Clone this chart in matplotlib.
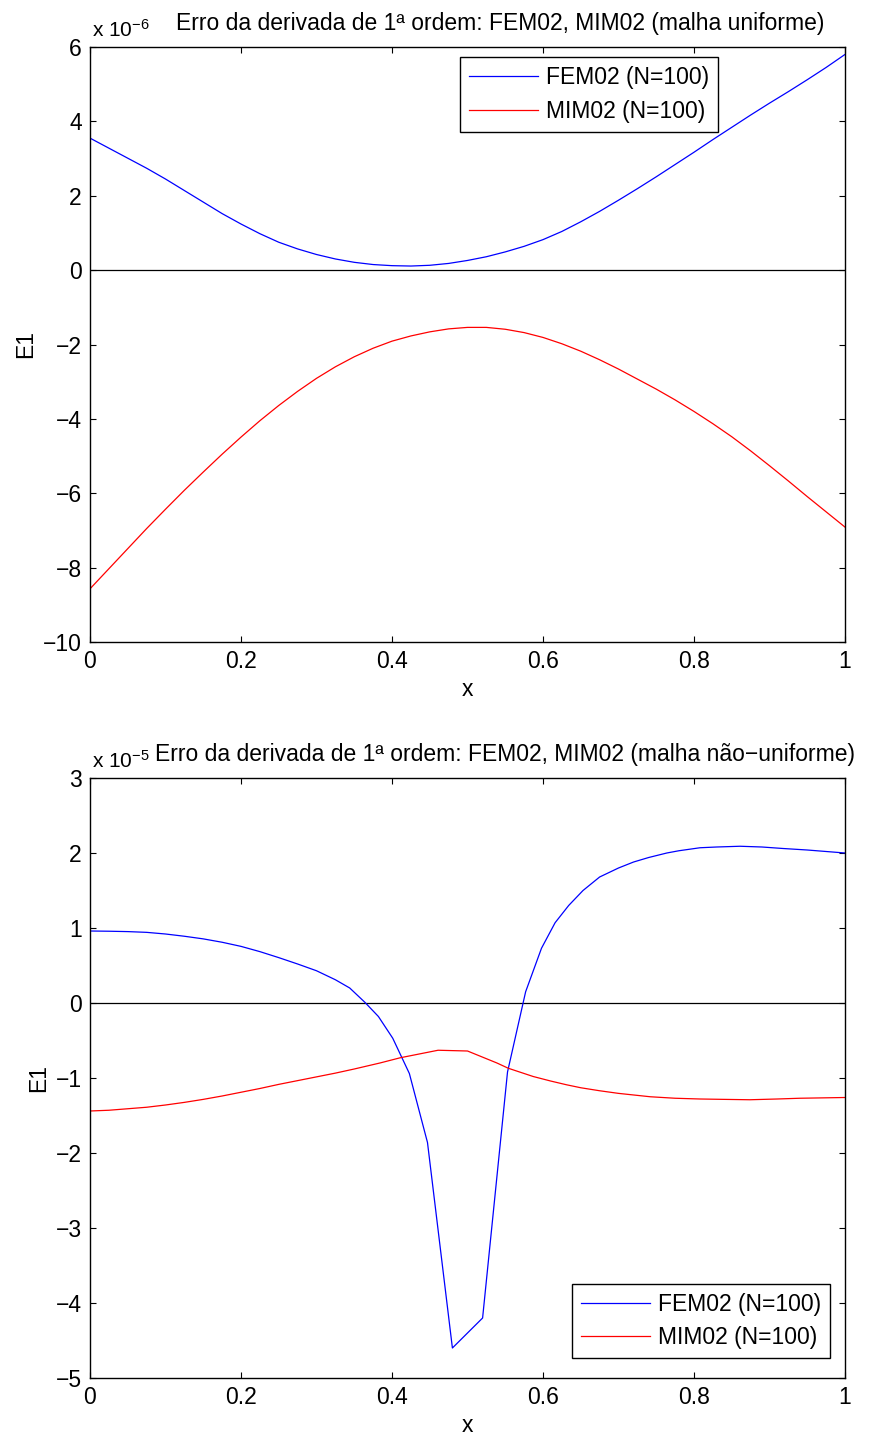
import matplotlib
matplotlib.use("Agg")
import matplotlib.pyplot as plt
import numpy as np

plt.rcParams['font.family'] = ['Liberation Sans', 'DejaVu Sans']
plt.rcParams['font.size'] = 16.5

# top panel: uniform mesh, values in units of 1e-6
x_uni = [0.000, 0.025, 0.050, 0.075, 0.100, 0.125, 0.150, 0.175, 0.200, 0.225,
         0.250, 0.275, 0.300, 0.325, 0.350, 0.375, 0.400, 0.425, 0.450, 0.475,
         0.500, 0.525, 0.550, 0.575, 0.600, 0.625, 0.650, 0.675, 0.700, 0.725,
         0.750, 0.775, 0.800, 0.825, 0.850, 0.875, 0.900, 0.925, 0.950, 0.975, 1.000]
fem_uni = [3.55, 3.28, 3.01, 2.74, 2.45, 2.14, 1.83, 1.52, 1.24, 0.98,
           0.75, 0.57, 0.42, 0.30, 0.21, 0.15, 0.12, 0.11, 0.13, 0.18,
           0.26, 0.36, 0.49, 0.64, 0.82, 1.04, 1.30, 1.58, 1.88, 2.19,
           2.51, 2.84, 3.17, 3.51, 3.84, 4.17, 4.49, 4.80, 5.12, 5.45, 5.80]
mim_uni = [-8.57, -8.03, -7.49, -6.95, -6.43, -5.92, -5.43, -4.95, -4.49, -4.05,
           -3.64, -3.26, -2.91, -2.60, -2.33, -2.10, -1.91, -1.77, -1.66, -1.58,
           -1.54, -1.54, -1.59, -1.68, -1.81, -1.98, -2.18, -2.41, -2.66, -2.93,
           -3.20, -3.49, -3.80, -4.13, -4.48, -4.86, -5.26, -5.67, -6.09, -6.50, -6.91]

# bottom panel: non-uniform mesh, values in units of 1e-5
x_fem_nu = [0.000, 0.025, 0.050, 0.075, 0.100, 0.125, 0.150, 0.175, 0.200, 0.225,
            0.250, 0.275, 0.300, 0.325, 0.344, 0.364, 0.382, 0.401, 0.423, 0.447,
            0.480, 0.520, 0.553, 0.577, 0.598, 0.616, 0.634, 0.653, 0.675, 0.700,
            0.720, 0.740, 0.764, 0.780, 0.808, 0.830, 0.861, 0.890, 0.918, 0.950,
            0.975, 1.000]
fem_nu = [0.96, 0.957, 0.952, 0.942, 0.92, 0.89, 0.855, 0.81, 0.755, 0.685,
          0.605, 0.52, 0.43, 0.31, 0.20, 0.01, -0.18, -0.47, -0.94, -1.86,
          -4.60, -4.20, -0.92, 0.15, 0.73, 1.07, 1.30, 1.50, 1.68, 1.80,
          1.88, 1.94, 2.00, 2.03, 2.07, 2.08, 2.09, 2.08, 2.06, 2.04,
          2.02, 2.00]
x_mim_nu = [0.000, 0.025, 0.050, 0.075, 0.100, 0.125, 0.150, 0.175, 0.200, 0.225,
            0.250, 0.275, 0.300, 0.325, 0.350, 0.384, 0.411, 0.461, 0.500, 0.539,
            0.554, 0.587, 0.610, 0.631, 0.650, 0.675, 0.700, 0.742, 0.775, 0.808,
            0.840, 0.874, 0.910, 0.940, 0.970, 1.000]
mim_nu = [-1.44, -1.43, -1.41, -1.39, -1.36, -1.325, -1.285, -1.24, -1.19, -1.14,
          -1.085, -1.035, -0.985, -0.935, -0.88, -0.80, -0.73, -0.63, -0.64, -0.80,
          -0.87, -0.98, -1.04, -1.09, -1.13, -1.17, -1.205, -1.25, -1.27, -1.28,
          -1.285, -1.29, -1.28, -1.27, -1.265, -1.26]

xticks = [0, 0.2, 0.4, 0.6, 0.8, 1]
xticklabels = ['0', '0.2', '0.4', '0.6', '0.8', '1']


def style_axes(ax):
    ax.set_xlim(0, 1)
    ax.set_xticks(xticks)
    ax.set_xticklabels(xticklabels)
    ax.tick_params(direction='in', top=True, right=True, length=4.3, width=0.8, pad=6)
    for s in ax.spines.values():
        s.set_linewidth(1.0)
    ax.axhline(0, color='black', lw=0.9, zorder=1)
    ax.set_xlabel('x', labelpad=3)
    ax.set_ylabel('E1', labelpad=4)


def add_legend(ax, loc, anchor):
    ax.legend(loc=loc, bbox_to_anchor=anchor, borderaxespad=0,
              fancybox=False, edgecolor='black', framealpha=1, handlelength=3,
              handletextpad=0.35, labelspacing=0.45)


def add_exponent(ax, label):
    # MATLAB-style "x 10^n" multiplier above the top-left corner
    h = ax.get_position().height * fig.get_figheight() * fig.dpi
    ax.text(0.003, 1 + 10 / h, 'x 10$\\mathregular{^{%s}}$' % label,
            transform=ax.transAxes, ha='left', va='baseline', fontsize=15)


fig = plt.figure(figsize=(8.69, 14.34), dpi=100)
ax1 = fig.add_axes([90/869, 1 - 642/1434, 755/869, 595/1434])
ax2 = fig.add_axes([90/869, 1 - 1378/1434, 755/869, 600/1434])

# top
ax1.plot(x_uni, fem_uni, color='blue', lw=0.9, label='FEM02 (N=100)', zorder=2)
ax1.plot(x_uni, mim_uni, color='red', lw=0.9, label='MIM02 (N=100)', zorder=2)
style_axes(ax1)
ax1.set_ylim(-10, 6)
ax1.set_yticks(np.arange(-10, 7, 2))
ax1.set_title('Erro da derivada de 1ª ordem: FEM02, MIM02 (malha uniforme)',
              x=0.543, pad=12, fontsize=16.5)
add_exponent(ax1, '-6')
add_legend(ax1, 'upper right', (0.832, 0.983))

# bottom
ax2.plot(x_fem_nu, fem_nu, color='blue', lw=0.9, label='FEM02 (N=100)', zorder=2)
ax2.plot(x_mim_nu, mim_nu, color='red', lw=0.9, label='MIM02 (N=100)', zorder=2)
style_axes(ax2)
ax2.set_ylim(-5, 3)
ax2.set_yticks(np.arange(-5, 4, 1))
ax2.set_title('Erro da derivada de 1ª ordem: FEM02, MIM02 (malha não−uniforme)',
              x=0.55, pad=12, fontsize=16.5)
add_exponent(ax2, '-5')
add_legend(ax2, 'lower right', (0.980, 0.033))

fig.savefig('out.png', dpi=100)
